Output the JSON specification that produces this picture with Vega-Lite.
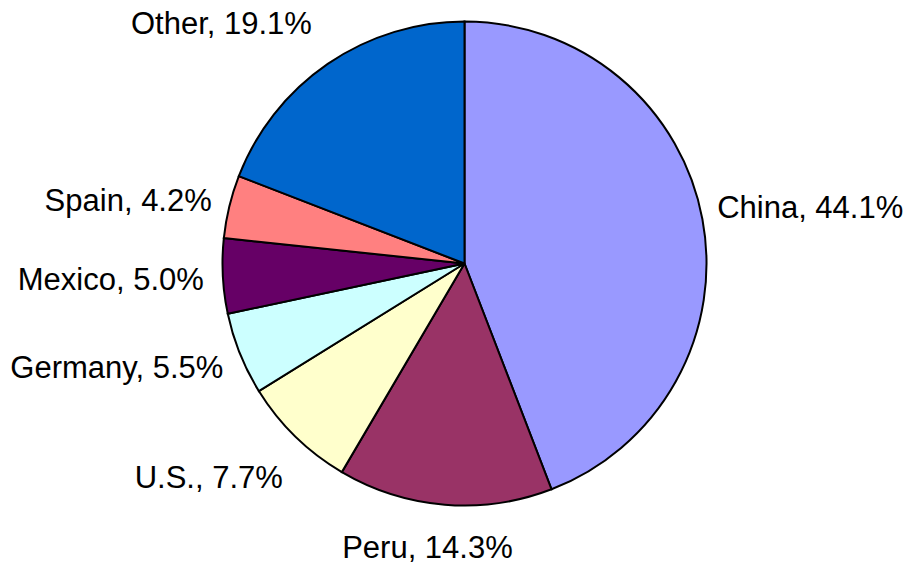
{
  "$schema": "https://vega.github.io/schema/vega-lite/v6.json",
  "autosize": {"type": "none"},
  "width": 891,
  "height": 527,
  "padding": {"left": 19, "top": 0, "right": 0, "bottom": 40},
  "background": "white",
  "config": {"view": {"stroke": null}},
  "data": {
    "values": [
      {"country": "China", "share": 44.1, "label": "China, 44.1%", "order": 1},
      {"country": "Peru", "share": 14.3, "label": "Peru, 14.3%", "order": 2},
      {"country": "U.S.", "share": 7.7, "label": "U.S., 7.7%", "order": 3},
      {"country": "Germany", "share": 5.5, "label": "Germany, 5.5%", "order": 4},
      {"country": "Mexico", "share": 5.0, "label": "Mexico, 5.0%", "order": 5},
      {"country": "Spain", "share": 4.2, "label": "Spain, 4.2%", "order": 6},
      {"country": "Other", "share": 19.1, "label": "Other, 19.1%", "order": 7}
    ]
  },
  "encoding": {
    "theta": {"field": "share", "type": "quantitative", "stack": true},
    "order": {"field": "order", "type": "quantitative"}
  },
  "layer": [
    {
      "mark": {"type": "arc", "radius": 242, "stroke": "black", "strokeWidth": 2},
      "encoding": {
        "color": {
          "field": "country",
          "type": "nominal",
          "legend": null,
          "scale": {
            "domain": ["China", "Peru", "U.S.", "Germany", "Mexico", "Spain", "Other"],
            "range": ["#9999FF", "#993366", "#FFFFCC", "#CCFFFF", "#660066", "#FF8080", "#0066CC"]
          }
        }
      }
    },
    {
      "mark": {"type": "text", "radius": 258, "align": "left", "baseline": "middle", "dx": -1, "dy": -7, "font": "Liberation Sans", "fontSize": 31, "color": "black"},
      "encoding": {"text": {"condition": {"test": "datum.country === 'China'", "field": "label"}, "value": ""}}
    },
    {
      "mark": {"type": "text", "radius": 270, "align": "center", "baseline": "top", "dx": -15, "dy": 1, "font": "Liberation Sans", "fontSize": 31, "color": "black"},
      "encoding": {"text": {"condition": {"test": "datum.country === 'Peru'", "field": "label"}, "value": ""}}
    },
    {
      "mark": {"type": "text", "radius": 270, "align": "right", "baseline": "top", "dx": 7, "dy": 7, "font": "Liberation Sans", "fontSize": 31, "color": "black"},
      "encoding": {"text": {"condition": {"test": "datum.country === 'U.S.'", "field": "label"}, "value": ""}}
    },
    {
      "mark": {"type": "text", "radius": 262, "align": "right", "baseline": "middle", "dx": 2, "dy": 8, "font": "Liberation Sans", "fontSize": 31, "color": "black"},
      "encoding": {"text": {"condition": {"test": "datum.country === 'Germany'", "field": "label"}, "value": ""}}
    },
    {
      "mark": {"type": "text", "radius": 261, "align": "right", "baseline": "middle", "dx": 0, "dy": 4, "font": "Liberation Sans", "fontSize": 31, "color": "black"},
      "encoding": {"text": {"condition": {"test": "datum.country === 'Mexico'", "field": "label"}, "value": ""}}
    },
    {
      "mark": {"type": "text", "radius": 260, "align": "right", "baseline": "middle", "font": "Liberation Sans", "fontSize": 31, "color": "black"},
      "encoding": {"text": {"condition": {"test": "datum.country === 'Spain'", "field": "label"}, "value": ""}}
    },
    {
      "mark": {"type": "text", "radius": 270, "align": "right", "baseline": "bottom", "font": "Liberation Sans", "fontSize": 31, "color": "black"},
      "encoding": {"text": {"condition": {"test": "datum.country === 'Other'", "field": "label"}, "value": ""}}
    }
  ]
}
